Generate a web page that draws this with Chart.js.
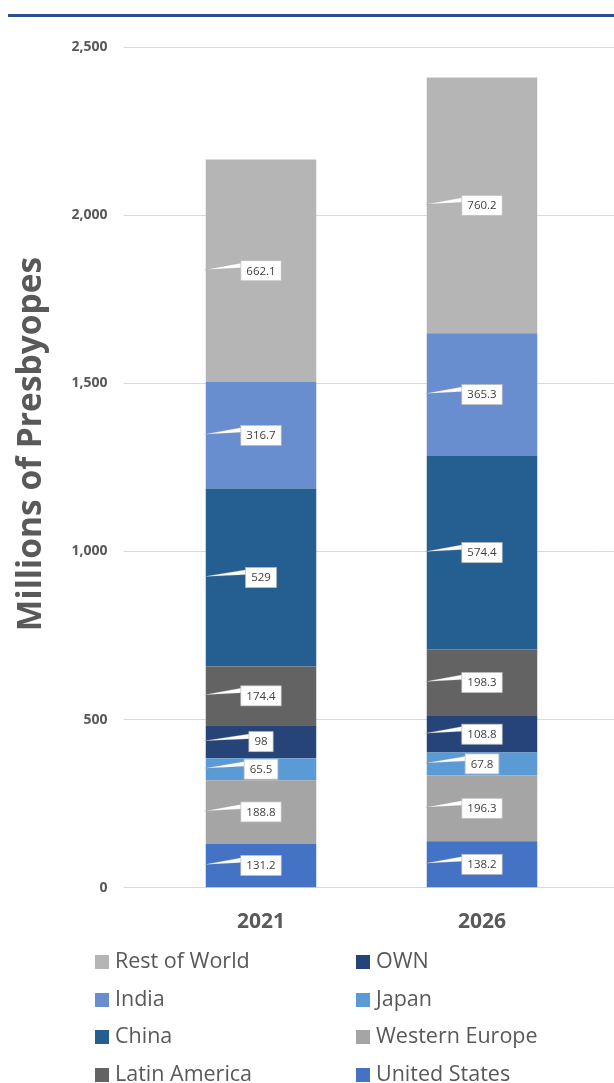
<!DOCTYPE html>
<html>
<head>
<meta charset="utf-8">
<script src="https://cdn.jsdelivr.net/npm/chart.js@4"></script>
<style>
  html, body { margin: 0; padding: 0; background: #fff; }
  #wrap { position: relative; width: 614px; height: 1083px; }
  #topline { position: absolute; left: 8px; right: 0; top: 14px; height: 3px; background: #2c4f8f; }
  #legend { position: absolute; top: 941px; left: 0; width: 614px;
            display: grid; grid-template-columns: 261px 258px; padding-left: 95px;
            font-family: "Open Sans", sans-serif; font-size: 21.5px; color: #595959; }
  #legend div { height: 37.5px; line-height: 37.5px; white-space: nowrap; }
  #legend span { display: inline-block; width: 14px; height: 14px; margin-right: 6px; vertical-align: -1px; }
</style>
</head>
<body>
<div id="wrap">
  <canvas id="grafico" width="614" height="1083"></canvas>
  <div id="topline"></div>
  <div id="legend"></div>
</div>
<script>
// dados
const anos = ['2021', '2026'];
const unitedStates = [131.2, 138.2];
const westernEurope = [188.8, 196.3];
const japan = [65.5, 67.8];
const own = [98, 108.8];
const latinAmerica = [174.4, 198.3];
const china = [529, 574.4];
const india = [316.7, 365.3];
const restOfWorld = [662.1, 760.2];
const yTicks = [0, 500, 1000, 1500, 2000, 2500];

const cinza = '#595959';
const corGrade = '#d9d9d9';

// rótulos com balão
const balao = {
    id: 'balao',
    afterDatasetsDraw(chart) {
        const ctx = chart.ctx;
        ctx.save();
        ctx.font = '11.5px "Open Sans", sans-serif';
        ctx.textAlign = 'center';
        ctx.textBaseline = 'middle';
        chart.data.datasets.forEach((ds, i) => {
            chart.getDatasetMeta(i).data.forEach((bar, j) => {
                const txt = String(ds.data[j]);
                const cx = bar.x;
                const cy = (bar.y + bar.base) / 2;
                const w = ctx.measureText(txt).width + 11;
                const h = 20;
                const bx = cx - w / 2;
                const left = bar.x - bar.width / 2 - 1;
                // ponteiro
                ctx.beginPath();
                ctx.moveTo(left, cy - 1);
                ctx.lineTo(bx + 2, cy - 8);
                ctx.lineTo(bx + 2, cy - 3);
                ctx.closePath();
                ctx.fillStyle = '#fff';
                ctx.fill();
                ctx.strokeStyle = 'rgba(150,150,150,0.5)';
                ctx.lineWidth = 0.5;
                ctx.stroke();
                // caixa
                ctx.fillStyle = '#fff';
                ctx.fillRect(bx, cy - h / 2, w, h);
                ctx.strokeStyle = '#bfbfbf';
                ctx.lineWidth = 0.75;
                ctx.strokeRect(bx, cy - h / 2, w, h);
                ctx.fillStyle = '#404040';
                ctx.fillText(txt, cx, cy + 0.5);
            });
        });
        ctx.restore();
    }
};

// extensão da grade e título do eixo
const extras = {
    id: 'extras',
    beforeDatasetsDraw(chart) {
        const ctx = chart.ctx;
        const y = chart.scales.y;
        ctx.save();
        ctx.strokeStyle = corGrade;
        ctx.lineWidth = 1;
        yTicks.forEach(v => {
            const py = Math.round(y.getPixelForValue(v) - 0.5) + 0.5;
            ctx.beginPath();
            ctx.moveTo(chart.chartArea.right, py);
            ctx.lineTo(chart.width, py);
            ctx.stroke();
        });
        ctx.translate(31, 444);
        ctx.rotate(-Math.PI / 2);
        ctx.font = 'bold 33.5px "Open Sans", sans-serif';
        ctx.fillStyle = cinza;
        ctx.textAlign = 'center';
        ctx.textBaseline = 'middle';
        ctx.fillText('Millions of Presbyopes', 0, 0);
        ctx.restore();
    }
};

const series = [
    { label: 'United States', data: unitedStates, backgroundColor: '#4472c4' },
    { label: 'Western Europe', data: westernEurope, backgroundColor: '#a5a5a5' },
    { label: 'Japan', data: japan, backgroundColor: '#5b9bd5' },
    { label: 'OWN', data: own, backgroundColor: '#264478' },
    { label: 'Latin America', data: latinAmerica, backgroundColor: '#636363' },
    { label: 'China', data: china, backgroundColor: '#255e91' },
    { label: 'India', data: india, backgroundColor: '#698ed0' },
    { label: 'Rest of World', data: restOfWorld, backgroundColor: '#b5b5b5' }
];

const grafico = new Chart(document.getElementById('grafico').getContext('2d'), {
    type: 'bar',
    data: {
        labels: anos,
        datasets: series.map(s => ({ ...s, categoryPercentage: 0.5, barPercentage: 1, borderWidth: 0 }))
    },
    options: {
        responsive: false,
        animation: false,
        layout: { padding: { top: 47, right: 21.5, bottom: 126, left: 0 } },
        plugins: { legend: { display: false }, tooltip: { enabled: false } },
        scales: {
            x: {
                stacked: true,
                grid: { display: false, drawTicks: false },
                border: { display: false },
                ticks: { padding: 22, color: cinza, font: { family: '"Open Sans", sans-serif', size: 21, weight: 'bold' } }
            },
            y: {
                stacked: true,
                min: 0,
                max: 2500,
                afterFit(scale) { scale.width = 150.5; },
                afterBuildTicks(scale) { scale.ticks = yTicks.map(v => ({ value: v })); },
                grid: { color: corGrade, tickLength: 27, drawTicks: true },
                border: { display: false },
                ticks: {
                    padding: 16,
                    color: cinza,
                    font: { family: '"Open Sans", sans-serif', size: 14, weight: 'bold' },
                    callback: v => v.toLocaleString('en-US')
                }
            }
        }
    },
    plugins: [extras, balao]
});

// legenda em duas colunas (ordem por coluna, de cima para baixo)
const invertida = grafico.data.datasets.slice().reverse();
const ordem = [];
for (let r = 0; r < 4; r++) { ordem.push(invertida[r], invertida[r + 4]); }
document.getElementById('legend').innerHTML = ordem.map(d =>
    `<div><span style="background:${d.backgroundColor}"></span>${d.label}</div>`).join('');
</script>
</body>
</html>
